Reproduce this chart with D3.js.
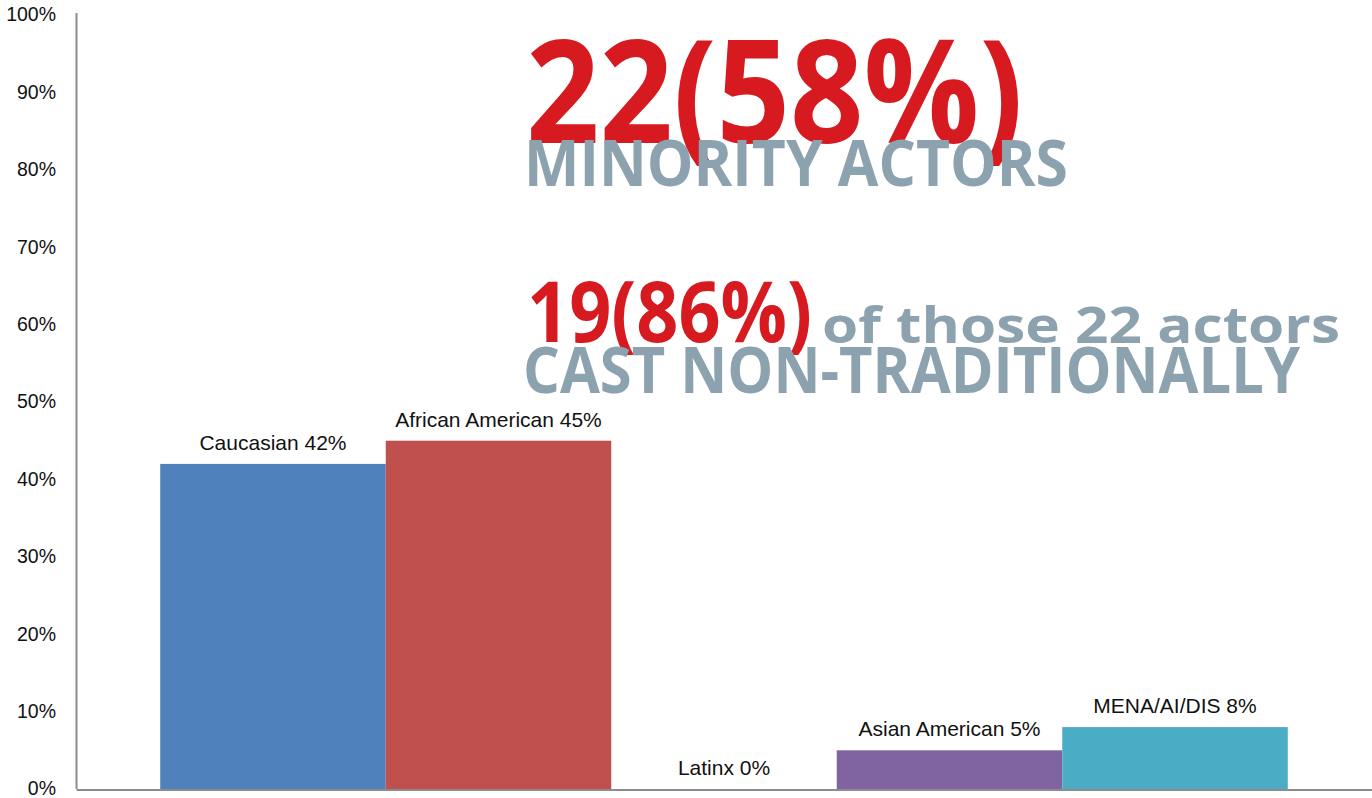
<!DOCTYPE html>
<html>
<head>
<meta charset="utf-8">
<script src="https://cdn.jsdelivr.net/npm/d3@7"></script>
<style>
  html, body { margin: 0; padding: 0; background: #fff; }
  svg { display: block; }
</style>
</head>
<body>
<svg id="chart" width="1372" height="798"></svg>
<script>
// Share of actors by group
const categories = ["Caucasian", "African American", "Latinx", "Asian American", "MENA/AI/DIS"];
const values = [42, 45, 0, 5, 8];
const colors = ["#4F81BD", "#C0504D", "#9BBB59", "#8064A2", "#4BACC6"];
const yTicks = [0, 10, 20, 30, 40, 50, 60, 70, 80, 90, 100];

// Headline callouts
const headlines = [
  { text: "22(58%)", x: 526, y: 143, size: 143, len: 497, color: "#D71920" },
  { text: "19(86%)", x: 527, y: 342, size: 84, len: 285, color: "#D71920" },
  { text: "MINORITY ACTORS", x: 524, y: 186, size: 64, len: 544, color: "#8CA2AE" },
  { text: "of those 22 actors", x: 822, y: 343, size: 51, len: 518, color: "#8CA2AE" },
  { text: "CAST NON-TRADITIONALLY", x: 523, y: 393, size: 64, len: 777, color: "#8CA2AE" }
];

const svg = d3.select("#chart");
const plot = { left: 76, right: 1372, top: 15, bottom: 789 };

const x = d3.scaleBand().domain(categories).range([plot.left, plot.right])
  .paddingInner(0).paddingOuter(0.3735);
const y = d3.scaleLinear().domain([0, 100]).range([plot.bottom, plot.top]);

// Bars
svg.append("g").selectAll("rect")
  .data(categories)
  .join("rect")
  .attr("x", d => x(d))
  .attr("width", x.bandwidth())
  .attr("y", (d, i) => y(values[i]))
  .attr("height", (d, i) => y(0) - y(values[i]))
  .attr("fill", (d, i) => colors[i]);

// Value labels
svg.append("g").selectAll("text")
  .data(categories)
  .join("text")
  .attr("x", d => x(d) + x.bandwidth() / 2)
  .attr("y", (d, i) => y(values[i]) - 14)
  .attr("text-anchor", "middle")
  .attr("font-family", "'Liberation Sans', Arial, sans-serif")
  .attr("font-size", 21)
  .attr("fill", "#111")
  .text((d, i) => `${d} ${values[i]}%`);

// Y axis
const yAxis = svg.append("g")
  .attr("transform", `translate(${plot.left},0)`)
  .call(d3.axisLeft(y).tickValues(yTicks).tickFormat(d => d + "%")
    .tickSizeInner(0).tickSizeOuter(0).tickPadding(20));
yAxis.select(".domain").attr("stroke", "#8C8C8C").attr("stroke-width", 2)
  .attr("d", `M0.5,${y(0)}V${y(100) - 2}`);
yAxis.selectAll("text")
  .attr("font-family", "'Liberation Sans', Arial, sans-serif")
  .attr("font-size", 19.5)
  .attr("fill", "#111")
  .attr("dy", "0.3em");

// X axis baseline
const xAxis = svg.append("g")
  .attr("transform", `translate(0,${plot.bottom + 0.5})`)
  .call(d3.axisBottom(x).tickSize(0).tickFormat(""));
xAxis.select(".domain").attr("stroke", "#8C8C8C").attr("stroke-width", 2.2);

// Headlines: red figures first, grey words on top
svg.append("g").selectAll("text")
  .data(headlines)
  .join("text")
  .attr("x", d => d.x)
  .attr("y", d => d.y)
  .attr("font-family", "'Open Sans', 'Noto Sans', sans-serif")
  .attr("font-weight", 700)
  .attr("font-size", d => d.size)
  .attr("fill", d => d.color)
  .attr("textLength", d => d.len)
  .attr("lengthAdjust", "spacingAndGlyphs")
  .text(d => d.text);
</script>
</body>
</html>
